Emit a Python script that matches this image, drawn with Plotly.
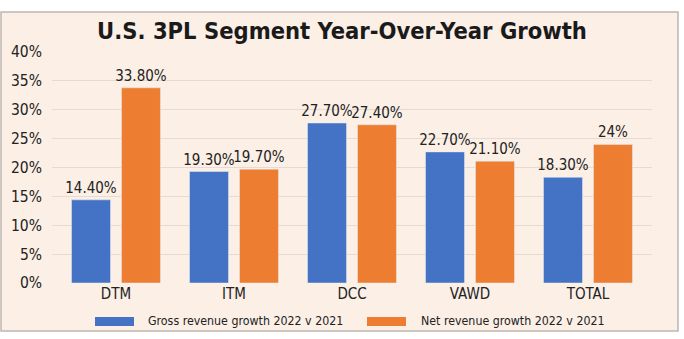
import plotly.graph_objects as go

categories = ["DTM", "ITM", "DCC", "VAWD", "TOTAL"]
gross_name = "Gross revenue growth 2022 v 2021"
net_name = "Net revenue growth 2022 v 2021"
gross = [14.4, 19.3, 27.7, 22.7, 18.3]
net = [33.8, 19.7, 27.4, 21.1, 24.0]
gross_labels = ["14.40%", "19.30%", "27.70%", "22.70%", "18.30%"]
net_labels = ["33.80%", "19.70%", "27.40%", "21.10%", "24%"]
y_ticks = [0, 5, 10, 15, 20, 25, 30, 35, 40]
y_tick_labels = [f"{v}%" for v in y_ticks]

BLUE = "#4472c4"
ORANGE = "#ed7d31"
BG = "#fbefe6"
FONT = "'DejaVu Sans Condensed', 'Roboto Condensed', 'Liberation Sans', sans-serif"
TXT = "#222222"

W, H = 684, 339
L, R, T, B = 52, 32, 52, 56
pw, ph = W - L - R, H - T - B


def px_x(x):
    return (x - L) / pw


def px_y(y):
    return (H - B - y) / ph


fig = go.Figure()
fig.add_bar(x=categories, y=gross, name=gross_name, marker_color=BLUE,
            text=gross_labels, textposition="outside", cliponaxis=False,
            constraintext="none",
            textfont=dict(family=FONT, size=15, color=TXT))
fig.add_bar(x=categories, y=net, name=net_name, marker_color=ORANGE,
            text=net_labels, textposition="outside", cliponaxis=False,
            constraintext="none",
            textfont=dict(family=FONT, size=15, color=TXT))

shapes = [
    dict(type="rect", xref="paper", yref="paper", layer="below",
         x0=px_x(1), x1=px_x(678), y0=px_y(331), y1=px_y(12),
         fillcolor=BG, line=dict(color="#bdb6b0", width=1.5)),
    dict(type="rect", xref="paper", yref="paper",
         x0=px_x(95), x1=px_x(134), y0=px_y(326), y1=px_y(317),
         fillcolor=BLUE, line=dict(width=0)),
    dict(type="rect", xref="paper", yref="paper",
         x0=px_x(367), x1=px_x(406), y0=px_y(326), y1=px_y(317),
         fillcolor=ORANGE, line=dict(width=0)),
]
annotations = [
    dict(text=gross_name, xref="paper", yref="paper", x=px_x(146), y=px_y(321),
         xanchor="left", yanchor="middle", showarrow=False,
         font=dict(family=FONT, size=12.3, color=TXT)),
    dict(text=net_name, xref="paper", yref="paper", x=px_x(419), y=px_y(321),
         xanchor="left", yanchor="middle", showarrow=False,
         font=dict(family=FONT, size=12.3, color=TXT)),
]

fig.update_layout(
    width=W, height=H,
    margin=dict(l=L, r=R, t=T, b=B),
    paper_bgcolor="white", plot_bgcolor="rgba(0,0,0,0)",
    barmode="group", bargap=0.153, bargroupgap=0.22,
    showlegend=False,
    title=dict(text="<b>U.S. 3PL Segment Year-Over-Year Growth</b>",
               x=0.5, xanchor="center", y=1 - 31 / H, yanchor="middle",
               font=dict(family=FONT, size=23.5, color="#1a1a1a")),
    shapes=shapes, annotations=annotations,
    font=dict(family=FONT, color=TXT),
)
fig.update_xaxes(range=[-0.5 - 5 / 118, 4.5 + 5 / 118], showgrid=False,
                 showline=False, ticks="", tickfont=dict(family=FONT, size=15, color=TXT))
fig.update_yaxes(range=[0, 40], tickvals=y_ticks, ticktext=y_tick_labels,
                 showgrid=True, gridcolor="#e6dbd2", gridwidth=1,
                 zeroline=False, showline=False, ticks="", ticklabelstandoff=9,
                 tickfont=dict(family=FONT, size=15.5, color=TXT))

fig.write_html("out.html")
